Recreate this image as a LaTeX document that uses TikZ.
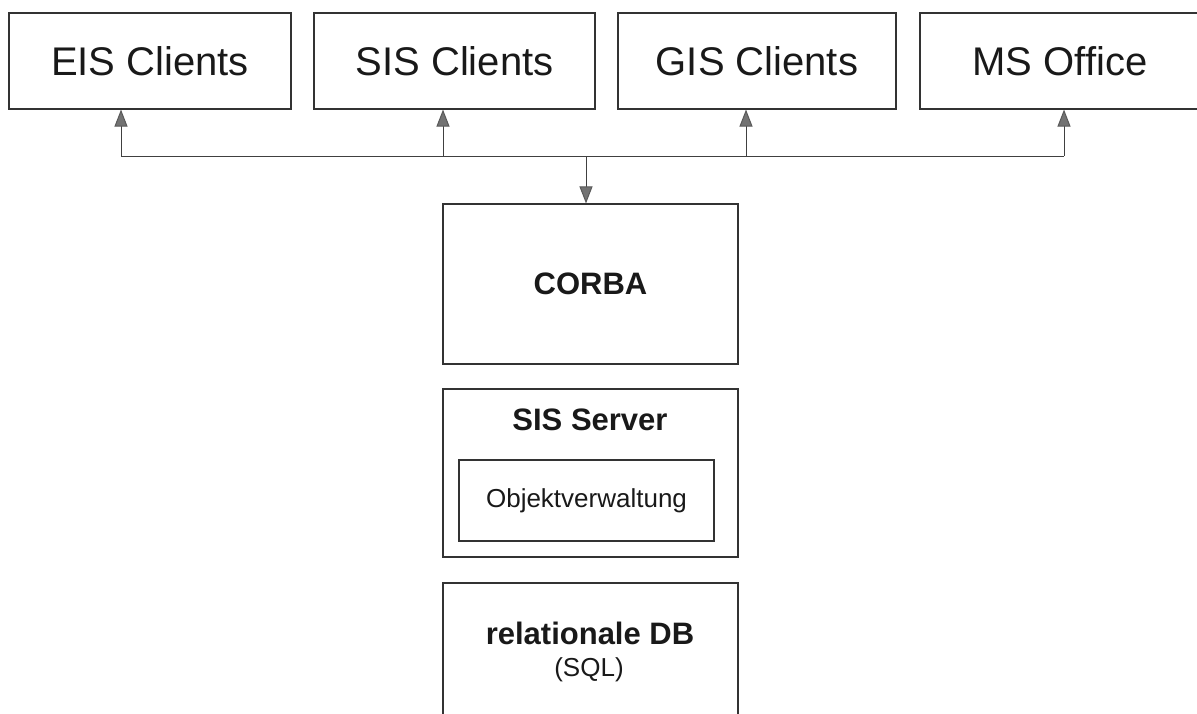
\documentclass[tikz,border=0pt]{standalone}
\usepackage{fontspec}
\setmainfont{Liberation Sans}
\usetikzlibrary{arrows.meta}
\begin{document}
\begin{tikzpicture}[x=1pt,y=-1pt,
  box/.style={draw=black!80, line width=1.1pt, inner sep=0pt, text=black!90},
  client/.style={box, minimum height=96pt, font=\fontsize{40}{48}\selectfont},
  lbl/.style={inner sep=0pt, text=black!90},
  conn/.style={draw=black!75, line width=1pt},
  tip/.style={-{Triangle[length=17pt,width=13pt,fill=black!55,color=black!65]}}]
\useasboundingbox (0,0) rectangle (1197,713);
% client boxes
\node[client, minimum width=282pt] (eis) at (150,61) {EIS Clients};
\node[client, minimum width=281pt] (sis) at (454.5,61) {SIS Clients};
\node[client, minimum width=278pt] (gis) at (757,61) {GIS Clients};
\node[client, minimum width=280pt] (ms) at (1060,61) {MS Office};
% middle column
\node[box, minimum width=295pt, minimum height=160pt,
      font=\fontsize{31}{36}\selectfont\bfseries] (corba) at (590.5,284) {CORBA};
\node[box, minimum width=295pt, minimum height=168pt] (server) at (590.5,473) {};
\node[lbl, font=\fontsize{31}{36}\selectfont\bfseries] (servertxt) at (590,420) {SIS Server};
\node[box, minimum width=255pt, minimum height=81pt,
      font=\fontsize{26}{30}\selectfont] (obj) at (586.5,500.5) {Objektverwaltung};
\node[box, minimum width=295pt, minimum height=147pt] (db) at (590.5,656.5) {};
\node[lbl, font=\fontsize{31}{36}\selectfont\bfseries] (dbtxt) at (590,633) {relationale DB};
\node[lbl, font=\fontsize{26}{30}\selectfont] (sqltxt) at (589,670) {(SQL)};
% bus
\coordinate (b1) at (121,156);
\coordinate (b2) at (443,156);
\coordinate (b3) at (746,156);
\coordinate (b4) at (1064,156);
\coordinate (bc) at (586,156);
\draw[conn] (b1) -- (b4);
\draw[conn,tip] (b1) -- (b1 |- eis.south);
\draw[conn,tip] (b2) -- (b2 |- sis.south);
\draw[conn,tip] (b3) -- (b3 |- gis.south);
\draw[conn,tip] (b4) -- (b4 |- ms.south);
\draw[conn,tip] (bc) -- (bc |- corba.north);
\end{tikzpicture}
\end{document}
